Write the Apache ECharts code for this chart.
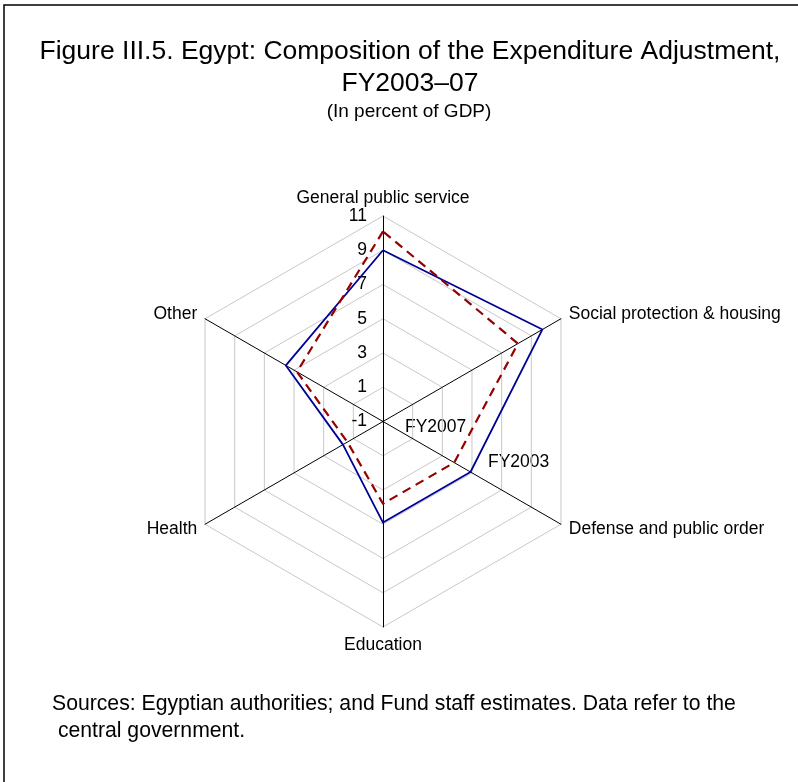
<!DOCTYPE html>
<html>
<head>
<meta charset="utf-8">
<script src="https://cdn.jsdelivr.net/npm/echarts@6/dist/echarts.min.js"></script>
<style>
  html, body { margin: 0; padding: 0; background: #fff; }
  #chart { width: 798px; height: 782px; }
</style>
</head>
<body>
<div id="chart"></div>
<script>
// 类目 (clockwise from the top)
var categories = [
  "General public service",
  "Social protection & housing",
  "Defense and public order",
  "Education",
  "Health",
  "Other"
];
// 数值 (in percent of GDP)
var fy2003 = [9.0, 9.75, 4.9, 4.9, 1.7, 5.55];
var fy2007 = [10.1, 8.1, 3.8, 3.8, 1.4, 4.8];
var axisMin = -1;
var axisMax = 11;

// echarts radar 是逆时针排列的，这里把顺序翻过来
var order = [0, 5, 4, 3, 2, 1];
function reorder(arr) {
  return order.map(function (i) { return arr[i]; });
}

var chart = echarts.init(document.getElementById("chart"));

var indicators = reorder(categories).map(function (name, i) {
  var ind = { name: name, min: axisMin, max: axisMax };
  // 只在第一根轴上显示刻度
  if (i === 0) {
    ind.axisLabel = { show: true };
  }
  return ind;
});

var option = {
  animation: false,
  textStyle: { fontFamily: "Liberation Sans, Arial, sans-serif" },
  graphic: [
    {
      type: "rect",
      shape: { x: 4, y: 5, width: 900, height: 900 },
      style: { fill: "none", stroke: "#000", lineWidth: 1.5 }
    },
    {
      type: "text",
      style: {
        text: "Figure III.5. Egypt: Composition of the Expenditure Adjustment,\nFY2003\u201307",
        x: 410,
        y: 36,
        font: "26.5px Liberation Sans",
        fill: "#000",
        align: "center",
        lineHeight: 32
      }
    },
    {
      type: "text",
      style: {
        text: "(In percent of GDP)",
        x: 409,
        y: 112,
        font: "19px Liberation Sans",
        fill: "#000",
        align: "center",
        verticalAlign: "middle"
      }
    },
    {
      type: "text",
      style: {
        text: "FY2007",
        x: 405,
        y: 427,
        font: "17.5px Liberation Sans",
        fill: "#000",
        verticalAlign: "middle"
      }
    },
    {
      type: "text",
      style: {
        text: "FY2003",
        x: 488,
        y: 462,
        font: "17.5px Liberation Sans",
        fill: "#000",
        verticalAlign: "middle"
      }
    },
    {
      type: "text",
      style: {
        text: "Sources: Egyptian authorities; and Fund staff estimates. Data refer to the\n central government.",
        x: 52,
        y: 691,
        font: "21.2px Liberation Sans",
        fill: "#000",
        lineHeight: 27
      }
    }
  ],
  radar: {
    center: [383, 421.5],
    radius: 205.5,
    startAngle: 90,
    shape: "polygon",
    splitNumber: 6,
    nameGap: 9,
    axisName: {
      color: "#000",
      fontSize: 17.5,
      fontFamily: "Liberation Sans"
    },
    axisLine: { lineStyle: { color: "#000", width: 1 } },
    splitLine: { lineStyle: { color: "#c8c8c8", width: 1 } },
    splitArea: { show: false },
    axisTick: { show: false },
    axisLabel: {
      show: false,
      color: "#000",
      fontSize: 17.5,
      fontFamily: "Liberation Sans",
      margin: 16,
      align: "right"
    },
    indicator: indicators
  },
  series: [
    {
      type: "radar",
      symbol: "none",
      silent: true,
      data: [
        {
          name: "FY2003",
          value: reorder(fy2003),
          lineStyle: { color: "#000096", width: 1.8, type: "solid" }
        },
        {
          name: "FY2007",
          value: reorder(fy2007),
          lineStyle: { color: "#960000", width: 2.2, type: [9, 6] }
        }
      ]
    }
  ]
};

chart.setOption(option);
</script>
</body>
</html>
